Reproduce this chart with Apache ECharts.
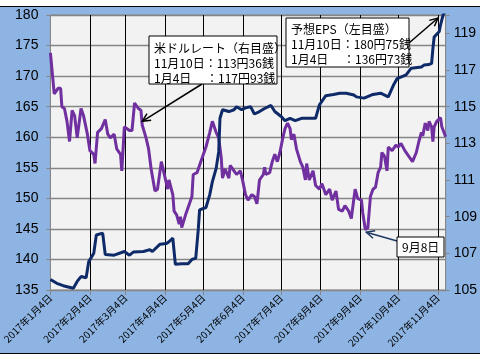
<!DOCTYPE html>
<html><head><meta charset="utf-8">
<script src="https://cdn.jsdelivr.net/npm/echarts@6/dist/echarts.min.js"></script>
<style>
html,body{margin:0;padding:0;background:#fff}
#bg{position:absolute;left:0;top:6px;width:480px;height:348px;box-sizing:border-box;background:#8DB4E2;border-top:1px solid #000;border-bottom:1px solid #000}
#c{position:absolute;left:0;top:0;width:480px;height:360px}
</style>
</head><body><div id="bg"></div><div id="c"></div>
<script>
// ---- data ----
const startDate = '2017-01-04';
const endDate = '2017-11-10';

const epsDates = ['2017-01-04','2017-01-09','2017-01-14','2017-01-22','2017-01-25','2017-01-28','2017-02-01','2017-02-03','2017-02-07','2017-02-09','2017-02-14','2017-02-16','2017-02-23','2017-03-03','2017-03-07','2017-03-10','2017-03-18','2017-03-23','2017-03-25','2017-03-31','2017-04-05','2017-04-07','2017-04-10','2017-04-11','2017-04-12','2017-04-17','2017-04-22','2017-04-25','2017-04-28','2017-04-30','2017-05-01','2017-05-06','2017-05-09','2017-05-11','2017-05-14','2017-05-16','2017-05-17','2017-05-19','2017-05-24','2017-05-28','2017-05-30','2017-06-03','2017-06-06','2017-06-10','2017-06-13','2017-06-17','2017-06-21','2017-06-26','2017-06-29','2017-07-04','2017-07-07','2017-07-11','2017-07-15','2017-07-20','2017-07-25','2017-07-31','2017-08-03','2017-08-08','2017-08-14','2017-08-19','2017-08-24','2017-08-30','2017-09-01','2017-09-07','2017-09-14','2017-09-20','2017-09-26','2017-09-30','2017-10-03','2017-10-10','2017-10-14','2017-10-22','2017-10-24','2017-10-28','2017-10-30','2017-10-31','2017-11-01','2017-11-05','2017-11-06','2017-11-08','2017-11-10'];
const epsValues = [136.73,136.1,135.7,135.3,136.4,137.2,137.0,139.6,141.0,144.0,144.3,140.8,140.7,141.3,140.7,141.2,141.3,141.6,141.3,142.5,142.6,142.9,143.5,143.3,139.2,139.3,139.3,140.0,140.2,145.0,148.1,148.5,150.6,152.7,154.9,157.6,163.1,164.5,164.2,164.5,165.0,164.5,164.8,165.0,163.8,164.2,164.7,165.2,164.2,163.4,162.7,163.1,162.7,163.1,163.1,163.1,165.3,166.8,167.0,167.2,167.2,166.9,166.6,166.4,167.0,167.2,166.6,168.5,169.6,170.2,171.3,171.5,171.8,171.9,172.1,174.5,176.4,177.3,178.4,180.0,180.75];

const usdDates = ['2017-01-04','2017-01-07','2017-01-10','2017-01-12','2017-01-13','2017-01-15','2017-01-17','2017-01-19','2017-01-21','2017-01-23','2017-01-25','2017-01-28','2017-01-30','2017-02-02','2017-02-04','2017-02-07','2017-02-08','2017-02-10','2017-02-13','2017-02-16','2017-02-18','2017-02-20','2017-02-23','2017-02-25','2017-02-28','2017-03-01','2017-03-03','2017-03-07','2017-03-09','2017-03-11','2017-03-14','2017-03-16','2017-03-17','2017-03-20','2017-03-22','2017-03-24','2017-03-27','2017-03-29','2017-04-01','2017-04-03','2017-04-06','2017-04-07','2017-04-10','2017-04-11','2017-04-13','2017-04-15','2017-04-16','2017-04-17','2017-04-20','2017-04-22','2017-04-25','2017-04-26','2017-04-29','2017-05-01','2017-05-04','2017-05-06','2017-05-09','2017-05-11','2017-05-14','2017-05-16','2017-05-18','2017-05-19','2017-05-21','2017-05-24','2017-05-25','2017-05-28','2017-05-30','2017-06-02','2017-06-04','2017-06-06','2017-06-08','2017-06-11','2017-06-13','2017-06-15','2017-06-17','2017-06-20','2017-06-21','2017-06-22','2017-06-25','2017-06-27','2017-06-29','2017-07-01','2017-07-03','2017-07-05','2017-07-07','2017-07-09','2017-07-11','2017-07-12','2017-07-14','2017-07-16','2017-07-19','2017-07-21','2017-07-23','2017-07-24','2017-07-26','2017-07-29','2017-07-31','2017-08-03','2017-08-05','2017-08-08','2017-08-11','2017-08-13','2017-08-16','2017-08-18','2017-08-21','2017-08-23','2017-08-26','2017-08-28','2017-08-31','2017-09-02','2017-09-05','2017-09-06','2017-09-08','2017-09-10','2017-09-12','2017-09-14','2017-09-16','2017-09-18','2017-09-20','2017-09-21','2017-09-23','2017-09-25','2017-09-26','2017-09-29','2017-10-02','2017-10-04','2017-10-06','2017-10-09','2017-10-12','2017-10-15','2017-10-18','2017-10-20','2017-10-22','2017-10-23','2017-10-25','2017-10-27','2017-10-28','2017-10-30','2017-10-31','2017-11-01','2017-11-03','2017-11-06','2017-11-07','2017-11-08','2017-11-10'];
const usdValues = [117.93,115.7,116.0,116.0,115.0,114.9,114.2,113.1,114.8,114.5,113.3,114.9,114.5,113.5,112.6,112.4,111.9,113.6,113.8,114.3,113.5,113.3,113.5,112.7,112.4,111.5,113.9,113.7,113.7,115.2,114.9,114.8,114.0,113.3,112.7,111.6,110.4,110.5,112.0,111.4,110.5,111.0,110.2,109.3,109.1,108.6,109.0,108.4,109.1,109.5,110.1,111.3,111.4,111.8,112.4,112.8,113.6,114.2,113.6,113.3,112.2,111.1,111.6,111.1,111.8,111.5,111.3,111.5,110.9,110.2,109.9,110.2,110.1,109.7,111.0,111.3,111.7,111.3,111.4,112.0,112.4,112.0,112.5,113.2,113.8,114.1,113.8,113.2,113.5,112.7,112.0,111.7,111.0,111.9,111.0,111.5,110.7,110.5,110.8,110.2,110.5,109.9,110.4,109.4,109.3,109.6,109.3,108.9,110.5,110.0,109.9,109.2,108.3,108.4,110.1,110.5,110.6,111.4,111.7,112.5,112.3,111.5,112.8,112.6,112.9,112.8,113.0,112.6,112.3,112.0,112.5,113.1,113.6,113.4,114.1,113.7,114.2,113.9,113.1,113.9,114.2,114.4,113.9,114.0,113.36];

const leftAxisRange = [135, 180, 5];
const rightAxisRange = [105, 120, 2];

const usdNote = ['米ドルレート（右目盛）', '11月10日：113円36銭', '1月4日　 ：117円93銭'];
const epsNote = ['予想EPS（左目盛）', '11月10日：180円75銭', '1月4日　 ：136円73銭'];
const lowNote = '9月8日';

// ---- build ----
function buildDays() {
  const out = [];
  let d = new Date(startDate + 'T00:00:00Z');
  const e = new Date(endDate + 'T00:00:00Z');
  while (d <= e) { out.push(d.toISOString().slice(0, 10)); d = new Date(d.getTime() + 86400000); }
  return out;
}
const days = buildDays();
const isMonthTick = (i, v) => String(v).slice(8) === '04';
const fmtDate = v => `${+v.slice(0,4)}年${+v.slice(5,7)}月${+v.slice(8)}日`;

const chart = echarts.init(document.getElementById('c'), null, {renderer: 'canvas'});
const CJK = '"Noto Sans CJK JP", sans-serif';

chart.setOption({
  backgroundColor: 'transparent',
  animation: false,
  grid: {left: 44, right: 28, top: 15, bottom: 70, show: true, backgroundColor: '#F2F2F2', borderColor: '#868686', borderWidth: 1},
  xAxis: {
    type: 'category', data: days, boundaryGap: false,
    axisLine: {lineStyle: {color: '#868686', width: 1}},
    axisTick: {interval: isMonthTick, length: 5, lineStyle: {color: '#868686'}},
    axisLabel: {interval: isMonthTick, rotate: 45, fontSize: 10, fontFamily: CJK, color: '#000', margin: 6, formatter: fmtDate},
    splitLine: {show: true, interval: isMonthTick, lineStyle: {color: '#000', width: 1}}
  },
  yAxis: [
    {type: 'value', min: leftAxisRange[0], max: leftAxisRange[1], interval: leftAxisRange[2],
     axisLine: {show: true, lineStyle: {color: '#868686'}},
     axisTick: {show: true, length: 4, lineStyle: {color: '#868686'}},
     axisLabel: {fontSize: 14, color: '#000', fontFamily: '"Liberation Sans", Arial', margin: 12},
     splitLine: {show: true, lineStyle: {color: '#868686', width: 1.3}}},
    {type: 'value', position: 'right', min: rightAxisRange[0], max: rightAxisRange[1], interval: rightAxisRange[2],
     axisLine: {show: true, lineStyle: {color: '#868686'}},
     axisTick: {show: true, length: 4, lineStyle: {color: '#868686'}},
     axisLabel: {fontSize: 14, color: '#000', fontFamily: '"Liberation Sans", Arial', margin: 8,
                 formatter: v => (v === rightAxisRange[1] ? '' : v)},
     splitLine: {show: false}}
  ],
  series: [
    {name: '米ドルレート', type: 'line', yAxisIndex: 1, showSymbol: false, symbol: 'none',
     lineStyle: {color: '#7030A0', width: 3}, data: usdDates.map((d, i) => [d, usdValues[i]])},
    {name: '予想EPS', type: 'line', yAxisIndex: 0, showSymbol: false, symbol: 'none', clip: true,
     lineStyle: {color: '#0F2A68', width: 3}, data: epsDates.map((d, i) => [d, epsValues[i]])}
  ]
});

// ---- annotations ----
function arrow(x1, y1, x2, y2, color) {
  const ang = Math.atan2(y2 - y1, x2 - x1), L = 9, a = 0.45;
  const p1 = [x2 - L * Math.cos(ang - a), y2 - L * Math.sin(ang - a)];
  const p2 = [x2 - L * Math.cos(ang + a), y2 - L * Math.sin(ang + a)];
  return [
    {type: 'line', z: 50, shape: {x1, y1, x2, y2}, style: {stroke: color, lineWidth: 1.5}},
    {type: 'polyline', z: 50, shape: {points: [p1, [x2, y2], p2]}, style: {stroke: color, lineWidth: 1.5, fill: null}}
  ];
}
function box(x, y, w, h, lines, tx, ty0, lh) {
  const els = [{type: 'rect', z: 50, shape: {x, y, width: w, height: h}, style: {fill: '#fff', stroke: '#000', lineWidth: 1}}];
  lines.forEach((t, i) => els.push({type: 'text', z: 51, style: {text: t, x: tx, y: ty0 + i * lh, font: '12px ' + CJK, fill: '#000', verticalAlign: 'middle', align: 'left'}}));
  return els;
}
const tipUsd = chart.convertToPixel({xAxisIndex: 0, yAxisIndex: 1}, ['2017-03-17', 114.2]);
const tipEps = chart.convertToPixel({xAxisIndex: 0, yAxisIndex: 0}, ['2017-11-04', 179.5]);
const tipLow = chart.convertToPixel({xAxisIndex: 0, yAxisIndex: 1}, ['2017-09-08', 108.2]);

const g = [].concat(
  arrow(202, 84, tipUsd[0], tipUsd[1], '#000'),
  box(149, 36, 128, 48, usdNote, 154, 48, 15),
  arrow(409, 43, tipEps[0], tipEps[1], '#000'),
  box(286, 18, 123, 49, epsNote, 291, 29, 15),
  arrow(397, 241, tipLow[0] + 1, tipLow[1] + 1, '#1F3864'),
  box(397, 237, 47, 20, [lowNote], 402, 247.5, 15)
);
chart.setOption({graphic: g});
</script>
</body></html>
